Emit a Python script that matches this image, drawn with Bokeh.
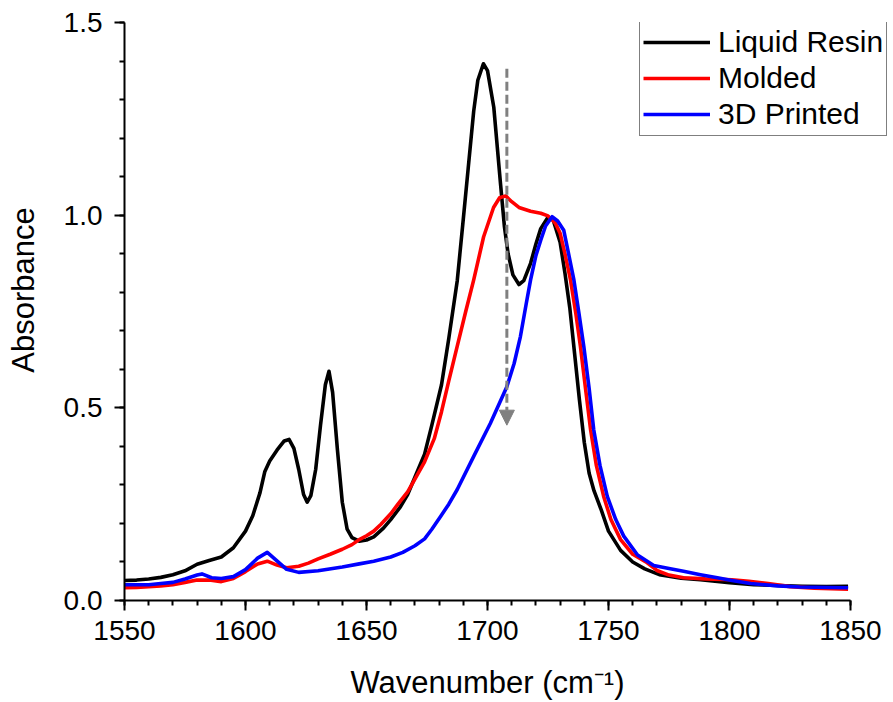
from bokeh.plotting import figure
from bokeh.models import (SingleIntervalTicker, PrintfTickFormatter, Legend, LegendItem,
                          Arrow, NormalHead, Range1d)
from bokeh.embed import file_html
from bokeh.resources import INLINE

# ---- data ----
liquid_x = [1550, 1555, 1560, 1565, 1570, 1575, 1580, 1585, 1590, 1595, 1600, 1603, 1606, 1608, 1610,
            1613, 1616, 1618, 1620, 1622, 1624, 1625.5, 1627, 1629, 1631, 1633, 1634.5, 1636, 1638,
            1640, 1642, 1644, 1647, 1650, 1653, 1657, 1660, 1664, 1667, 1670, 1674, 1677, 1681, 1684,
            1687.5, 1690, 1692, 1694.3, 1696, 1698.3, 1700, 1702.6, 1704, 1705.4, 1707, 1708.5,
            1710.5, 1713, 1715, 1717.8, 1720, 1722, 1725, 1727, 1730, 1732, 1734, 1736, 1738, 1740,
            1742, 1744, 1747, 1750, 1755, 1760, 1765, 1771, 1780, 1788, 1800, 1810, 1820, 1830,
            1840, 1849]
liquid_y = [0.052, 0.053, 0.056, 0.060, 0.067, 0.077, 0.094, 0.104, 0.113, 0.137, 0.180, 0.220, 0.280,
            0.335, 0.362, 0.390, 0.414, 0.418, 0.395, 0.340, 0.275, 0.255, 0.272, 0.340, 0.455, 0.560,
            0.595, 0.540, 0.390, 0.255, 0.185, 0.163, 0.154, 0.157, 0.165, 0.188, 0.210, 0.243, 0.275,
            0.320, 0.380, 0.455, 0.560, 0.680, 0.830, 0.990, 1.120, 1.270, 1.350, 1.393, 1.375, 1.280,
            1.180, 1.080, 0.970, 0.900, 0.845, 0.820, 0.830, 0.875, 0.925, 0.965, 0.995, 0.990, 0.930,
            0.850, 0.760, 0.640, 0.520, 0.410, 0.330, 0.285, 0.235, 0.180, 0.130, 0.100, 0.082, 0.067,
            0.058, 0.054, 0.046, 0.041, 0.039, 0.037, 0.036, 0.037]

molded_x = [1550, 1555, 1560, 1565, 1570, 1575, 1580, 1585, 1590, 1595, 1600, 1605, 1609, 1613, 1617,
            1622, 1626, 1630, 1635, 1640, 1644, 1647, 1650, 1653, 1656, 1660, 1663, 1667, 1670, 1674,
            1678, 1681, 1684, 1687.5, 1691, 1694.3, 1698.4, 1702.5, 1705, 1707.5, 1710, 1713, 1717.8,
            1722, 1725, 1728, 1730, 1732, 1734.3, 1736.5, 1738.4, 1740.5, 1742.6, 1745, 1748, 1751,
            1755, 1760, 1766, 1770, 1775, 1781, 1790, 1801, 1808, 1816, 1825, 1835, 1849]
molded_y = [0.033, 0.034, 0.036, 0.038, 0.041, 0.047, 0.053, 0.053, 0.049, 0.057, 0.075, 0.095, 0.102,
            0.092, 0.085, 0.089, 0.097, 0.108, 0.120, 0.133, 0.145, 0.158, 0.168, 0.180, 0.198, 0.225,
            0.250, 0.282, 0.315, 0.360, 0.420, 0.490, 0.570, 0.660, 0.750, 0.832, 0.944, 1.020, 1.045,
            1.050, 1.035, 1.020, 1.010, 1.005, 0.998, 0.980, 0.953, 0.900, 0.832, 0.745, 0.659, 0.550,
            0.443, 0.350, 0.270, 0.210, 0.158, 0.120, 0.098, 0.078, 0.066, 0.059, 0.056, 0.054, 0.050,
            0.044, 0.036, 0.032, 0.029]

printed_x = [1550, 1555, 1560, 1565, 1570, 1575, 1580, 1582, 1586, 1590, 1595, 1600, 1605, 1609, 1613,
             1617, 1622, 1630, 1640, 1647, 1653, 1660, 1665, 1670, 1674, 1677, 1680.6, 1684, 1687.5,
             1694.3, 1701.2, 1708, 1711, 1713.6, 1716, 1717.8, 1720, 1722, 1724, 1726.7, 1729, 1731.5,
             1733.5, 1735.7, 1737.8, 1739.8, 1742, 1743.9, 1746.5, 1749.5, 1753, 1756.3, 1762, 1768.7,
             1775, 1781, 1788, 1795, 1801, 1808.7, 1820, 1829, 1849]
printed_y = [0.041, 0.041, 0.041, 0.044, 0.047, 0.056, 0.066, 0.069, 0.059, 0.057, 0.062, 0.080, 0.110,
             0.125, 0.103, 0.081, 0.073, 0.077, 0.087, 0.095, 0.102, 0.113, 0.125, 0.142, 0.160, 0.185,
             0.218, 0.250, 0.288, 0.374, 0.460, 0.555, 0.615, 0.685, 0.770, 0.832, 0.895, 0.935, 0.972,
             0.996, 0.985, 0.961, 0.900, 0.832, 0.745, 0.659, 0.550, 0.443, 0.350, 0.270, 0.210, 0.167,
             0.118, 0.091, 0.083, 0.076, 0.067, 0.059, 0.052, 0.044, 0.038, 0.035, 0.033]

series_names = ["Liquid Resin", "Molded", "3D Printed"]
series_colors = ["black", "red", "blue"]

arrow_x = 1708
arrow_y_start = 1.38
arrow_y_end = 0.455

x_axis_bounds = (1550, 1850)
x_tick_interval = 50
y_tick_interval = 0.5

FONT = "Liberation Sans"
W, H = 893, 702
NBSP = "\u00a0"

# frame spans 124..893 px; the axis itself only covers 1550..1850 (124..850 px)
x_end = 1550 + 300 * (W - 124) / (850 - 124)

p = figure(width=W, height=H, output_backend="svg", toolbar_location=None,
           x_range=Range1d(1550, x_end), y_range=Range1d(0, 1.5),
           min_border_left=124, min_border_right=0, min_border_top=22, min_border_bottom=H - 601)
p.outline_line_color = None
p.xgrid.visible = False
p.ygrid.visible = False
p.background_fill_color = "white"
p.border_fill_color = "white"

renderers = []
for xs, ys, c in zip([liquid_x, molded_x, printed_x], [liquid_y, molded_y, printed_y], series_colors):
    r = p.line(xs, ys, line_color=c, line_width=3.6, line_join="round")
    renderers.append(r)

# dashed arrow
p.add_layout(Arrow(x_start=arrow_x, y_start=arrow_y_start, x_end=arrow_x, y_end=arrow_y_end,
                   line_color="#808080", line_width=3, line_dash="9 4",
                   end=NormalHead(size=15, fill_color="#808080", line_color="#808080", line_width=1)))

# axes
for ax in (p.xaxis[0], p.yaxis[0]):
    ax.axis_line_width = 2
    ax.major_tick_line_width = 2
    ax.minor_tick_line_width = 2
    ax.major_tick_out = 10
    ax.major_tick_in = 0
    ax.minor_tick_out = 5
    ax.minor_tick_in = 0
    ax.major_label_text_font = FONT
    ax.major_label_text_font_size = "28px"
    ax.major_label_text_color = "black"
    ax.axis_label_text_font = FONT
    ax.axis_label_text_font_size = "31px"
    ax.axis_label_text_font_style = "normal"
    ax.axis_label_text_color = "black"

p.xaxis[0].bounds = x_axis_bounds
p.xaxis[0].ticker = SingleIntervalTicker(interval=x_tick_interval, num_minor_ticks=5)
p.yaxis[0].ticker = SingleIntervalTicker(interval=y_tick_interval, num_minor_ticks=5)
p.yaxis[0].formatter = PrintfTickFormatter(format="%.1f")
p.xaxis[0].major_label_standoff = 10
p.yaxis[0].major_label_standoff = 12

# axis titles; non-breaking spaces shift the centred text onto the 1550..1850 span
p.xaxis[0].axis_label = "Wavenumber (cm\u207b\u00b9)" + NBSP * 5
p.yaxis[0].axis_label = NBSP * 5 + "Absorbance"
p.xaxis[0].axis_label_standoff = 22
p.yaxis[0].axis_label_standoff = 20

legend = Legend(items=[LegendItem(label=n, renderers=[r]) for n, r in zip(series_names, renderers)],
                location=(515, 464), orientation="vertical",
                label_text_font=FONT, label_text_font_size="30px", label_text_color="black",
                glyph_width=67, glyph_height=36, label_height=36, label_standoff=8,
                spacing=0, padding=3, margin=0,
                border_line_color="black", border_line_width=1.2,
                background_fill_color="white", background_fill_alpha=1.0)
p.add_layout(legend, "center")

open("out.html", "w").write(file_html(p, INLINE))
